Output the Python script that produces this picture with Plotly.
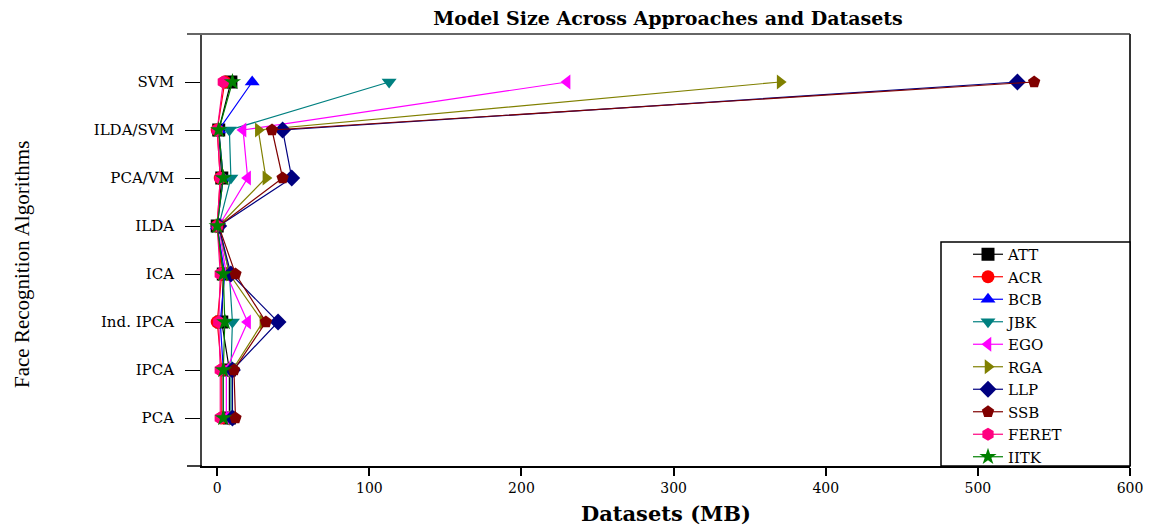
import plotly.graph_objects as go

categories = ["PCA", "IPCA", "Ind. IPCA", "ICA", "ILDA", "PCA/VM", "ILDA/SVM", "SVM"]

series_names = ["ATT", "ACR", "BCB", "JBK", "EGO", "RGA", "LLP", "SSB", "FERET", "IITK"]

att = [8, 8, 3, 4, 0, 3, 1, 9]
acr = [3, 3, 0, 3, 0, 2, 0, 5]
bcb = [4, 4, 2, 5, 0, 4, 1, 23]
jbk = [9, 9, 10, 8, 1, 9, 8, 113]
ego = [6, 6, 20, 6, 1, 20, 17, 230]
rga = [10, 10, 30, 8, 1, 32, 27, 370]
llp = [10, 10, 40, 9, 1, 49, 43, 526]
ssb = [12, 11, 32, 12, 1, 43, 36, 537]
feret = [2, 2, 1, 2, 0, 2, 0, 4]
iitk = [4, 4, 5, 4, 0, 4, 1, 10]

values = [att, acr, bcb, jbk, ego, rga, llp, ssb, feret, iitk]
colors = ["#000000", "#ff0000", "#0000ff", "#008080", "#ff00ff",
          "#808000", "#000080", "#800000", "#ff0080", "#008000"]
symbols = ["square", "circle", "triangle-up", "triangle-down", "triangle-left",
           "triangle-right", "diamond", "pentagon", "hexagon", "star"]

SERIF = "DejaVu Serif, serif"
TIMES = "Liberation Serif, Times New Roman, serif"

fig = go.Figure()
ypos = list(range(len(categories)))
for name, vals, c, s in zip(series_names, values, colors, symbols):
    fig.add_trace(go.Scatter(
        x=vals, y=ypos, mode="lines+markers", name=name,
        line=dict(color=c, width=1.2),
        marker=dict(symbol=s, size=13, color=c, line=dict(width=0)),
    ))

# the page body adds an 8px offset; work in reference pixel coords
OFF = 8
W, H = 1151 - OFF, 526 - OFF
PL, PR, PT, PB = 202, 1130, 34, 466  # plot area in reference pixels
L, R, T, B = PL - OFF, W - (PR - OFF), PT - OFF, H - (PB - OFF)
pw = PR - PL
ph = PB - PT


def px(x):
    return (x - PL) / pw


def py(y):
    return (PB - y) / ph


fig.update_layout(
    width=W, height=H,
    margin=dict(l=L, r=R, t=T, b=B, autoexpand=False),
    paper_bgcolor="white", plot_bgcolor="white",
    title=dict(text="<b>Model Size Across Approaches and Datasets</b>",
               x=(668 - OFF) / W, xanchor="center", y=1 - (18 - OFF) / H, yanchor="middle",
               font=dict(family=SERIF, size=19, color="black")),
    xaxis=dict(range=[-10, 600], tickvals=[0, 100, 200, 300, 400, 500, 600],
               showgrid=False, zeroline=False, showline=True, linecolor="black",
               linewidth=1.5, mirror=False, ticks="outside", ticklen=8,
               tickcolor="black", tickwidth=1.5, automargin=False,
               tickfont=dict(family=SERIF, size=14, color="black"),
               title=dict(text="<b>Datasets (MB)</b>", standoff=12,
                          font=dict(family=SERIF, size=21, color="black"))),
    yaxis=dict(range=[-1, 8], tickvals=ypos, ticktext=categories,
               showgrid=False, zeroline=False, showline=True, linecolor="#444444",
               linewidth=2, mirror=False, ticks="outside", ticklen=15,
               tickcolor="black", tickwidth=1.2, automargin=False,
               ticklabelstandoff=8,
               tickfont=dict(family=SERIF, size=15, color="black")),
    legend=dict(x=px(968), y=py(238), xanchor="left", yanchor="top",
                bgcolor="rgba(0,0,0,0)", borderwidth=0,
                font=dict(family=SERIF, size=15, color="black"),
                tracegroupgap=0),
    showlegend=True,
    shapes=[
        dict(type="line", xref="paper", yref="paper", x0=px(187), x1=1, y0=1, y1=1,
             line=dict(color="#666666", width=2)),
        dict(type="line", xref="paper", yref="paper", x0=1, x1=1, y0=0, y1=1,
             line=dict(color="#333333", width=2)),
        dict(type="line", xref="paper", yref="paper", x0=px(187), x1=0, y0=0, y1=0,
             line=dict(color="black", width=1.5)),
        dict(type="rect", xref="paper", yref="paper",
             x0=px(941), x1=1, y0=0, y1=py(242),
             line=dict(color="black", width=1.5), fillcolor="white", layer="above"),
    ],
    annotations=[
        dict(text="Face Recognition Algorithms", xref="paper", yref="paper",
             x=px(22), y=py(265), textangle=-90, showarrow=False,
             xanchor="center", yanchor="middle",
             font=dict(family=TIMES, size=21, color="black")),
    ],
)

fig.write_html("out.html")
